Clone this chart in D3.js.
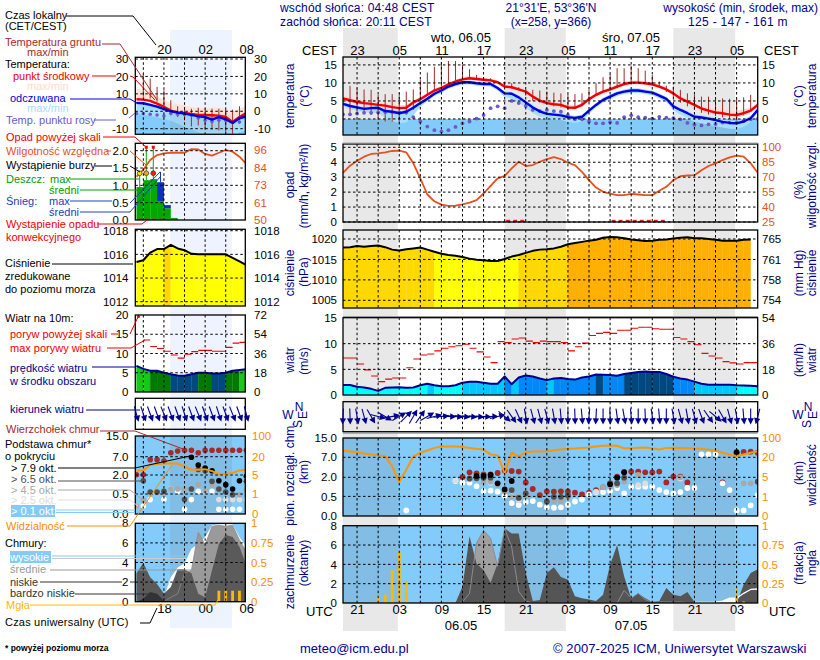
<!DOCTYPE html>
<html><head><meta charset="utf-8">
<script src="https://cdn.jsdelivr.net/npm/d3@7/dist/d3.min.js"></script>
<style>
html,body{margin:0;padding:0;background:#fff}
text{font-family:"Liberation Sans",Arial,sans-serif;font-size:11px}
</style></head><body><svg id="c" width="820" height="660"></svg>
<script>
// ---------- DATA : main panel (hourly, t = hours after 21:00 CEST 05.05) ----------
const tempMid=[5.7,5.2,4.7,4.4,4.2,3.9,3.7,3.3,3.0,3.1,4.6,5.5,6.7,7.9,8.6,9.6,10.4,11.0,11.3,11.1,10.9,10.7,10.2,9.0,8.8,8.2,7.6,6.2,5.1,4.4,4.1,3.9,3.2,3.1,3.9,5.5,6.7,7.6,8.2,9.0,9.7,10.1,10.1,9.9,9.6,9.0,8.2,7.1,5.7,4.8,3.9,2.9,2.3,1.8,1.6,1.2,1.1,1.6,2.3,3.9];
const tempHi=[6.5,6.0,5.5,5.1,5.0,4.7,4.5,4.2,3.9,3.9,5.2,6.1,7.2,8.4,9.1,10.1,10.9,11.6,11.9,11.7,11.4,11.2,10.7,9.6,9.4,8.8,8.1,6.8,5.7,5.0,4.8,4.5,3.9,3.8,4.5,6.1,7.2,8.1,8.8,9.6,10.3,10.7,10.7,10.5,10.2,9.6,8.8,7.7,6.4,5.5,4.6,3.7,3.2,2.8,2.6,2.3,2.3,2.7,3.2,4.6];
const tempLo=[5.0,4.5,4.1,3.9,3.7,3.4,3.1,2.7,2.5,2.6,4.0,5.0,6.2,7.4,8.1,9.1,9.9,10.5,10.8,10.6,10.4,10.2,9.7,8.5,8.3,7.7,7.1,5.7,4.6,3.9,3.6,3.4,2.7,2.6,3.4,5.0,6.2,7.1,7.7,8.5,9.2,9.6,9.6,9.4,9.1,8.5,7.7,6.6,5.2,4.3,3.4,2.4,1.8,1.3,1.0,0.6,0.4,0.9,1.7,3.4];
const appMid=[4.2,3.6,3.2,2.8,3.0,3.1,2.2,2.0,1.6,2.0,3.1,4.4,5.6,7.0,7.9,9.0,9.7,10.2,10.2,9.9,9.7,9.7,8.6,7.1,7.0,6.0,4.6,3.2,2.1,1.4,1.2,1.0,0.5,0.3,0.6,2.3,3.9,5.3,6.2,7.1,7.6,7.9,7.9,7.6,7.3,6.5,5.6,3.5,2.5,1.6,0.6,0.4,0.1,-0.3,-0.8,-1.1,-1.2,-0.7,0.2,2.5];
const appHi=[4.7,4.1,3.7,3.3,3.5,3.6,2.8,2.6,2.2,2.6,3.6,4.9,6.1,7.5,8.4,9.5,10.2,10.7,10.7,10.4,10.2,10.2,9.1,7.6,7.5,6.5,5.1,3.8,2.7,2.0,1.8,1.6,1.1,0.9,1.2,2.8,4.4,5.8,6.8,7.7,8.2,8.5,8.5,8.2,7.9,7.1,6.2,4.1,3.1,2.2,1.2,1.0,0.7,0.4,-0.1,-0.4,-0.5,0.0,0.8,3.1];
const appLo=[3.5,2.8,2.2,1.8,1.7,1.6,0.3,-0.5,-1.2,-1.0,1.0,3.4,4.9,6.4,7.3,8.4,9.1,9.6,9.6,9.3,9.1,9.0,7.9,6.1,5.6,4.6,3.1,1.6,0.6,0.1,-0.2,-0.3,-0.8,-1.1,-0.7,1.5,3.2,4.6,5.5,6.4,6.9,7.2,7.2,6.9,6.6,5.7,4.7,2.5,1.2,0.2,-0.8,-1.2,-1.6,-2.0,-2.4,-2.7,-2.8,-2.2,-0.9,1.8];
const groundMax=[null,9.2,8.5,8.2,8.1,6.7,6.9,6.9,7.3,7.6,8.2,10.8,12.9,14.5,15.8,16.1,16.1,15,13.8,12.2,11.6,11.3,10.4,10.4,9.9,8.8,8.2,8.1,7.9,7.6,7.3,7.1,6.9,6.9,7.1,8.1,9.9,11.6,12.5,14.1,14.1,14.8,14.1,13.4,12.2,10.4,9.2,9,8.1,7.1,6.7,6.2,6.2,5.7,5.7,5.6,5.6,6,6.7,null];
const groundMin=[null,1.5,1.5,1.7,1.1,0.5,-0.7,-0.7,-1.2,1.2,2.5,6,7,8,9,10,10.8,11.2,11.2,11,10.8,10.6,10,8.7,8.5,8,6.5,5,4.5,4,3.5,3.2,2.5,3,3.5,5,6.5,7.5,8,8.5,9.5,10,10,9.8,9.5,9,7.5,6,4.5,3.5,2.5,1.7,1.2,0.8,0.4,0,-0.4,1,2,null];
const dewPoint=[1.3,1.3,1.5,1.7,1.7,1.8,1.9,1.9,1.9,1.8,0.5,-0.7,-2.1,-3.1,-3.5,-3.1,-2.2,-1.2,-0.7,0.1,1.1,3,3.5,3,5,4.4,3.6,2.5,2.2,2.5,2.2,2,1.1,-0.1,-0.1,-0.7,-1.2,-1.2,-0.9,-1.1,0.5,1,0.5,0.4,0.1,0.6,0.4,0.2,-0.1,-1.1,-1.6,-1.8,-1.5,-1.4,-1,-1,-1,-0.6,-0.1,0];
const humidity=[74.4,81.5,86.5,90.6,93.3,93.9,95,96.3,96.6,95,83.9,68.7,52.6,45.8,42.5,41.1,41.5,42.8,44.5,46.9,53.6,61.3,68.7,71.4,78.8,85.5,81.2,82.2,85.5,88.2,90.2,88.2,84.5,82.2,75.4,67,59.6,55.3,53.6,51.9,51.9,53.2,52.6,51.9,51.9,56.3,60.3,67,71,71.7,72,77,81.2,83.9,87.2,89.9,91.6,90.6,83.9,74.4];
const convective=[23.5,24.5,25.5,38.5,39.5,40.5,41.5,42.5,43.5,44.5,45.5];
const pressure=[1017.9,1018,1018.3,1018.1,1018.3,1018.4,1018,1017.4,1017.2,1017.5,1017.7,1017.9,1017.4,1016.9,1016.4,1016.1,1015.9,1015.6,1015.2,1014.9,1014.8,1014.6,1014.6,1015.1,1015.7,1016.1,1016.6,1017.1,1017.4,1017.5,1017.7,1018.1,1018.7,1019,1019.3,1019.6,1019.8,1020.3,1020.5,1020.4,1020.2,1019.9,1019.7,1019.5,1019.6,1019.8,1019.9,1020.1,1020.3,1020.4,1020.2,1020.2,1020,1019.8,1019.6,1019.6,1019.6,1019.8,1019.9];
const pressureClass=[1,1,1,1,1,1,1,1,1,1,1,1,1,0,0,0,0,0,0,0,0,0,0,0,0,1,1,1,1,1,1,1,2,2,2,2,2,2,2,2,2,2,2,2,2,2,2,2,2,2,2,2,2,2,2,2,2,2,2];
const gust=[7.2,7.2,6.05,4.9,3.7,2.6,3.1,3.3,3.3,5.3,7,7.8,8,8.6,9.1,9.4,9.6,9.9,9.1,8.4,7.4,6.3,10.4,10.2,10.9,11.1,10.5,10.2,10.5,10.4,10.4,10.2,8.6,9.4,10.1,11.6,12,12.2,12,12.6,12.6,13,13.2,13.2,12.9,12.8,12.8,11.2,10.9,10.4,9.8,8.1,7.6,7.2,6.5,6.25,6.05,6.3,6.3];
const windSpeed=[1.95,1.95,1.6,1.45,1.2,0.8,1.4,1.45,1.5,1.4,1.45,1.9,2.2,1.9,1.7,1.7,1.9,2.4,2.6,2.6,2.4,2.2,2.2,3.6,2.1,3.4,3.8,3.6,3.2,2.9,3.2,3.3,3.1,3,3.4,3.6,4,3.95,3.9,3.75,4.1,4.3,4.5,4.6,4.5,4.5,4.1,3.55,3.2,3,2.6,2.2,2,2,2,2,1.9,1.85,1.8,1.7];
const windDir=[3,358,350,345,330,285,300,260,240,225,210,215,240,255,265,272,275,276,275,275,274,270,255,310,325,335,350,345,345,345,350,355,0,358,355,5,3,0,358,352,350,355,0,358,352,355,0,350,345,350,345,340,325,310,330,345,350,355,0,15];
const visibility=[49,44,41,36,32,28,25,13.3,4,10.7,22.7,39,48,59,65,65,65,63,59,55,52,32,28,8.1,39,22.7,41,44,44,45,49,52,55,56,59,61,65,68,69,68,57,57,60,61,57,52,59,60,59,59,57,55,51,47,39,32,25,32,39,45];
const topsMain=[[17,2.08],[18,3.25],[19,3],[20,2.75],[21,2.75],[22,3.08],[23,3.67],[24,3.58],[25,3.42],[26,1.6],[27,1.08],[28,0.6],[29,0.9],[30,0.87],[31,0.9],[32,0.9],[33,0.79],[34,0.66],[35,0.79],[36,1.0],[37,1.21],[38,1.53],[39,2.17],[40,3.33],[41,3.42],[42,3.42],[43,3.25],[44,3.25],[45,3.42],[46,1.6],[47,2.17],[48,2.17],[49,1.6],[54,1.6],[56,9.2],[57,9.2],[58,9.35],[59,8.9]];
const base01Main=[[9,0.14],[16,1.71],[17,1.58],[18,1.58],[19,1.29],[20,0.92],[21,0.95],[22,0.87],[23,0.55],[24,0.33],[25,0.28],[26,0.36],[27,0.38],[28,0.29],[29,0.22],[30,0.21],[31,0.22],[32,0.29],[33,0.37],[34,0.42],[35,0.66],[36,0.84],[37,0.84],[38,0.92],[39,1.16],[40,0.74],[41,1.26],[42,1.26],[43,1.26],[44,1.26],[45,1.0],[46,0.84],[47,0.74],[48,0.84],[49,1.16],[50,1.16],[51,8.24],[52,8.24],[53,8.24],[54,1.53],[55,1.0],[56,0.14],[57,0.14],[58,0.27],[59,0.6]];
const base25Main=[[16,1.75],[20,1.72],[21,1.58],[22,1.45],[24,0.5],[25,0.4],[36,0.86],[42,1.39],[43,1.53],[48,1.9]];
const base45Main=[[18,1.84],[20,1.66],[21,1.66],[22,1.39],[23,0.87],[24,0.49],[25,0.49],[26,0.6],[30,0.38],[31,0.38],[32,0.47],[37,1.21],[38,1.26],[39,1.39],[40,1.66],[42,2.58],[48,2.0],[57,1.53],[58,1.53]];
const base65Main=[[18,1.92],[19,1.92],[20,1.97],[21,1.97],[24,1.0],[25,0.46],[26,0.74],[29,0.37],[30,0.49],[31,0.49],[32,0.6],[38,1.53],[39,1.53],[40,1.97],[59,1.66]];
const base79Main=[[19,2.33],[20,2.33],[21,2.58],[22,1.53],[23,1.05],[24,1.71],[38,1.45],[39,1.97],[40,3.25],[56,8.93]];
const cloudLow=[0,0,0,0,0,0,0,0,0,0,0,0,0,0,0,0,0,1.7,6.9,4.1,3.4,2.1,4.1,7.7,7.2,7.2,3.1,0.2,0.3,3.1,3.7,2.7,2.4,0.7,0.5,0.35,0.2,0.85,3.95,6,2.75,0.5,1,0.5,0.1,0.2,1.55,0.85,0.7,1.15,0.1,0,0,0,0,0,0,1.9,3.1,3.5];
const cloudMid=[0,0,0,0,0,0,0,0,0,0,0,0,0,0,0,0,0,0.1,1,6.2,7.5,6.7,3.8,7.7,5.8,1.2,0.2,0,0,0,0,0,0,0,0,0,0,0,0,0,1.3,0.5,1,0.35,0.1,0.1,0.1,0.1,0.1,0,0,0,0,0,0,0,0,0,0,0];
const cloudHigh=[0,0,0,0,0,0,0,0,0,0,0,0,0,0,0,0,0,0,0,0,0,0,0,0,0,0,0,0,0,0,0,0,0,0,0,0,0,0,0,0,0,0,0,0,0,0,0,0,0,0,0.05,0.05,0.05,0.1,0.2,0.5,0.5,1,1.4,1.45];
const fogMain=[[5,0.094],[6,0.107],[7,0.43],[8,0.665],[9,0.28],[56,0.19],[57,0.02]];

// ---------- DATA : left panel (t = hours after 16:00 CEST) ----------
const lTempMid=[6.9,6.7,6,4.4,2.5,0.4,-0.6,-1,-1.5,-2.1,-2.1,-2.3,-2.5,-3.3,-6.2,-3.3,-1];
const lTempHi=[13,12.1,10.6,8.7,6.3,4.8,4,3.5,2.5,1.9,1.9,2.1,1.9,1.5,-0.4,1.5,2.9];
const lTempLo=[6.2,6,5.3,3.7,1.8,-0.3,-1.3,-1.7,-2.2,-2.8,-2.8,-3,-3.2,-4,-6.9,-4,-1.7];
const lAppMid=[4.8,4.6,3.7,2.7,1.3,0,-0.8,-1.3,-2.1,-2.9,-3.3,-4.8,-3.3,-4.6,-6.7,-4,-2.9];
const lAppHi=[5.4,5.2,4.3,3.3,1.9,0.6,-0.2,-0.7,-1.5,-2.3,-2.7,-4.2,-2.7,-4,-6.1,-3.4,-2.3];
const lAppLo=[-1.3,-2,-2.5,-3.5,-4.5,-5.5,-7,-9,-10.5,-12,-13,-13.5,-13,-13,-14,-12,-11];
const lGroundMax=[null,21.3,18.8,14,12.1,6.3,2.9,2.5,1.5,2.1,1.5,1.5,1.5,1,1,2.9,null];
const lGroundMin=[null,8.3,7.3,5.4,0.6,-2.3,-3.3,-5.2,-8.7,-8.1,-10,-10.6,-11,-12.5,-12.9,-5.2,null];
const lDew=[-1.3,-1.3,-1.7,-2.1,-2.7,-1.3,-1.7,-1.9,-2.3,-3.8,-5.2,-5.8,-5.2,-5.2,-6.2,-6.2,-2.3];
const lHumidity=[78.5,83,89.5,92.7,93.8,94.2,94.2,94.2,96.6,96.4,93.4,92.3,94.2,96,94.9,91.6,86.8];
const lRainMean=[0.95,1.15,1.18,0.53,0.34,0.06];
const lSnowMean=[0,0,0,0.56,0.09,0];
const lRainMax=[[0.47,1.35],[1.43,2.12],[2.45,2.12]];
const lSnowMax=[[3.5,1.39]];
const lStorm=[[0.47,"#FFE000"],[1.43,"#FFA500"],[2.45,"#F02000"]];
const lOverScale=[1.43,2.45];
const lConvective=[0.5,1.5,2.5,3.5];
const lPressure=[1015.35,1015.5,1016.15,1016.45,1016.45,1016.8,1016.5,1016.35,1016.05,1016,1016,1016,1016,1016,1015.7,1015.4,1015.1];
const lPressureClass=[0,0,0,0,1,0,0,0,0,0,0,0,0,0,0,0];
const lGust=[null,13.5,11.8,11.3,10.6,9.6,8.8,9.8,10.5,10.8,10.8,10.6,10.6,11.6,12.7,12.9];
const lWindSpeed=[6.8,6,5.5,5.5,5,4.6,4.3,4.2,4.6,5,5,4.8,4.8,5,5.5,5.7,5.9];
const lWindDir=[345,342,340,340,338,340,340,342,340,338,340,340,342,340,338,340,345];
const lVisibility=[8.75,8.75,13.3,14.1,14.4,14.4,14.4,12,9.3,9.3,9.8,8.2,5.8,5.8,6.6,8.75,9.3];
const lTops=[[0,2.08],[1,2.08],[2,6.2],[3,6.2],[4,5.83],[5,8.5],[6,9.2],[7,9.5],[8,9.5],[9,8.5],[10,9.5],[11,9.5],[12,9.5],[13,9.5],[14,9.5],[15,9.5],[16,9.5]];
const lBase01=[[1,0.2],[2,0.36],[4,0.37],[6,0.71],[7,0.12],[8,0.36],[9,0.71],[10,0.71],[11,0.71],[12,0.12],[13,0.12],[14,0.12],[15,0.12]];
const lBase25=[[0,0.2],[3,0.55],[5,0.92],[12,0.36],[13,0.36],[14,0.36],[15,0.36],[16,0.36]];
const lBase45=[[0,0.2],[1,0.34],[2,0.58],[3,0.58],[4,0.58],[5,0.9],[6,0.9],[7,0.9],[8,0.9],[9,1.24],[10,0.76],[11,1.24],[12,0.84],[13,0.66],[14,0.48],[15,0.48],[16,0.84]];
const lBase65=[[1,1.55],[2,0.66],[3,0.66],[4,0.71],[7,0.36],[8,0.9],[9,3.5],[10,3.17],[11,1.5],[12,0.9],[13,0.66],[14,0.48],[16,1.5]];
const lBase79=[[8,6.83],[9,4.75],[10,3.92],[11,3.17],[12,1.55],[13,1.24],[14,0.9],[15,1.55],[16,1.9]];
const lCloudVeryLow=[0,0.3,1,0.8,0.1,0,0,0,0,0,0,0,0,0,0,0,0];
const lCloudLow=[2.9,3.95,2.5,1.8,0.8,1.5,3.3,3.3,2.9,0.8,0.45,3.2,5.9,6.8,6.6,5.6,3.7];
const lCloudMid=[0,0,0,0,0,0.45,0.8,2.9,3.2,7.1,5.8,7.7,7.8,7.7,7.8,6.3,5.1];
const lCloudHigh=[0,0,0,0,0.45,2.5,3.5,3.9,5.4,5.9,6.6,7.8,7.9,7.9,7.9,6.6,5.6];
const lFog=[[12,0.14],[13,0.14],[14,0.14],[15,0.14]];

// ---------- tick labels ----------
const localTop=["23","05","11","17","23","05","11","17","23","05"];
const utcBottom=["21","03","09","15","21","03","09","15","21","03"];
const labelHours=[2,8,14,20,26,32,38,44,50,56];
const lLocalTop=[[4,"20"],[10,"02"],[16,"08"]];
const lUtcBottom=[[4,"18"],[10,"00"],[16,"06"]];
const baseTicks=[0,0.5,2,7,15];
const visTicks=[0,1,5,20,100];
const fogTicks=[0,0.25,0.5,0.75,1];
const mainNights=[[0,7.8],[23,31.7],[47,55.8]];
const leftNights=[[4.9,13.9]];

// ---------- helpers ----------
const svg=d3.select("#c");
const NAVY="#000090",ORG="#FF8C00",HUM="#E8501E",BLUEBG="#82CBFA",BROWN="#A52A2A",GRIDC="#000";
const X=d3.scaleLinear([0,59],[343,757.7]);
const XL=d3.scaleLinear([-0.17,15.85],[135.3,245.3]);
const defs=svg.append("defs");let clipN=0;
const bgLayer=svg.append("g");
mainNights.forEach(n=>bgLayer.append("rect").attr("x",X(n[0])).attr("width",X(n[1])-X(n[0])).attr("y",28).attr("height",603).attr("fill","#E8E8E8"));
leftNights.forEach(n=>bgLayer.append("rect").attr("x",XL(n[0])).attr("width",XL(n[1])-XL(n[0])).attr("y",30).attr("height",598).attr("fill","#EEF4FF"));

function panel(x,top,bot,bg,nights,nightCol){
  const x0=x.range()[0],x1=x.range()[1];
  const id="cp"+(clipN++);
  defs.append("clipPath").attr("id",id).append("rect").attr("x",x0).attr("y",top).attr("width",x1-x0).attr("height",bot-top);
  const g=svg.append("g").attr("clip-path",`url(#${id})`);
  g.append("rect").attr("x",x0).attr("y",top).attr("width",x1-x0).attr("height",bot-top).attr("fill",bg);
  return {g,x,x0,x1,top,bot,nights,nightCol};
}
function overlay(p){p.nights.forEach(n=>p.g.append("rect").attr("x",p.x(n[0])).attr("width",p.x(n[1])-p.x(n[0])).attr("y",p.top).attr("height",p.bot-p.top).attr("fill",p.nightCol));}
const GREYOV="rgba(128,128,128,0.18)",BLUEOV="rgba(100,150,255,0.11)";
function finish(p,y,yticks,vticks){
  const gr=svg.append("g").attr("stroke",GRIDC).attr("stroke-width",1).attr("stroke-dasharray","2.5,2.5").attr("fill","none");
  (yticks||[]).forEach(v=>gr.append("line").attr("x1",p.x0).attr("x2",p.x1).attr("y1",y(v)).attr("y2",y(v)));
  vticks.forEach(t=>gr.append("line").attr("x1",p.x(t)).attr("x2",p.x(t)).attr("y1",p.top).attr("y2",p.bot));
  svg.append("rect").attr("x",p.x0).attr("y",p.top).attr("width",p.x1-p.x0).attr("height",p.bot-p.top).attr("fill","none").attr("stroke","#000").attr("stroke-width",1.3);
}
const mainV=d3.range(2,59,3), leftV=d3.range(1,16,3);
function lineOf(x,y,data){return d3.line().defined(d=>d!=null).x((d,i)=>x(i)).y(d=>y(d))(data);}
function drawLine(g,x,y,data,col,w){g.append("path").attr("d",lineOf(x,y,data)).attr("fill","none").attr("stroke",col).attr("stroke-width",w).attr("stroke-linejoin","round");}
function band(g,x,y,hi,lo,col){g.append("path").attr("d",d3.area().x((d,i)=>x(i)).y0((d,i)=>y(lo[i])).y1(d=>y(d))(hi)).attr("fill",col);}
const FF='"Liberation Sans",Arial,sans-serif';
function axisLeft(scale,ticks,fmt,xpos,col){
  const a=svg.append("g").attr("transform",`translate(${xpos},0)`).call(d3.axisLeft(scale).tickValues(ticks).tickFormat(fmt).tickSize(0).tickPadding(0));
  a.select(".domain").remove();a.selectAll("text").attr("fill",col||"#000").style("font-size","11.5px").style("font-family",FF);
}
function axisRight(scale,ticks,fmt,xpos,col){
  const a=svg.append("g").attr("transform",`translate(${xpos},0)`).call(d3.axisRight(scale).tickValues(ticks).tickFormat(fmt).tickSize(0).tickPadding(0));
  a.select(".domain").remove();a.selectAll("text").attr("fill",col||"#000").style("font-size","11.5px").style("font-family",FF);
}
function dots(g,x,y,list,col,r){g.selectAll(null).data(list).enter().append("circle").attr("cx",d=>x(d[0])).attr("cy",d=>y(d[1])).attr("r",r).attr("fill",col);}
function columns(g,x,y,data,colorOf,y0val){
  d3.range(data.length-1).forEach(i=>{
    const seg=[[i,data[i]],[i+1,data[i+1]]];
    const c=colorOf(data[i],i);
    g.append("path").attr("d",d3.area().x(d=>x(d[0])).y0(y(y0val)).y1(d=>y(d[1]))(seg)).attr("fill",c).attr("stroke",c).attr("stroke-width",0.3);
  });
}
function arrows(g,x,yc,dirs){
  dirs.forEach((d,i)=>{
    const a=g.append("g").attr("transform",`translate(${x(i)},${yc}) rotate(${d+180})`);
    a.append("line").attr("x1",0).attr("y1",8).attr("x2",0).attr("y2",-5).attr("stroke",NAVY).attr("stroke-width",1.1);
    a.append("path").attr("d",d3.line()([[0,-8],[3.2,-1.8],[-3.2,-1.8]])+"Z").attr("fill",NAVY);
  });
}
const pressColors=["#FFFF00","#FFD800","#FFB000"];
const windColor=d3.scaleThreshold([2,3,4,4.9,5.6],["#00FFFF","#00C8FF","#0088F8","#004880","#007A00","#18C818"]);

// ---------- MAIN PANELS ----------
{ // temperature
  const y=d3.scaleLinear([-4.45,17.2],[135,57]);
  const p=panel(X,57,135,"#fff",mainNights,GREYOV);
  p.g.append("rect").attr("x",p.x0).attr("y",y(0)).attr("width",p.x1-p.x0).attr("height",p.bot-y(0)).attr("fill",BLUEBG);
  overlay(p);
  band(p.g,X,y,tempHi,tempLo,"#FFD9D6");
  band(p.g,X,y,appHi,appLo,"#A6DEFF");
  groundMax.forEach((v,i)=>{if(v!=null)p.g.append("line").attr("x1",X(i)).attr("x2",X(i)).attr("y1",y(v)).attr("y2",y(groundMin[i])).attr("stroke",BROWN).attr("stroke-width",1);});
  dots(p.g,X,y,dewPoint.map((v,i)=>[i,v]),"#6A5ACD",1.9);
  drawLine(p.g,X,y,tempMid,"#F00000",2.4);
  drawLine(p.g,X,y,appMid,"#0000E0",2.4);
  finish(p,y,[0,5,10,15],mainV);
  axisLeft(y,[0,5,10,15],String,337);axisRight(y,[0,5,10,15],String,762);
}
{ // precipitation / humidity
  const y=d3.scaleLinear([0,5],[222,147.3]);
  const yh=d3.scaleLinear([25,100],[222,147.3]);
  const p=panel(X,144,222,"#fff",mainNights,GREYOV);overlay(p);
  drawLine(p.g,X,yh,humidity,HUM,1.8);
  p.g.selectAll(null).data(convective).enter().append("rect").attr("x",d=>X(d)-2).attr("width",4).attr("y",y(0)-2.2).attr("height",2.6).attr("fill","#E02020");
  finish(p,y,[0,1,2,3,4,5],mainV);
  axisLeft(y,[0,1,2,3,4,5],String,337);axisRight(yh,[25,40,55,70,85,100],String,762,HUM);
  svg.append("rect").attr("x",343).attr("y",142.6).attr("width",414.7).attr("height",1).attr("fill","#999");
}
{ // pressure
  const y=d3.scaleLinear([1005,1020],[300.3,239]);
  const p=panel(X,230,308,"#fff",mainNights,GREYOV);overlay(p);
  columns(p.g,X,y,pressure,(v,i)=>pressColors[pressureClass[i]],1000);
  drawLine(p.g,X,y,pressure,"#000",2);
  finish(p,y,[1005,1010,1015,1020],mainV);
  axisLeft(y,[1005,1010,1015,1020],String,337);
  const mm=["754","758","761","765"];
  axisRight(y,[1005,1010,1015,1020],(d,i)=>mm[i],762);
}
{ // wind
  const y=d3.scaleLinear([0,15],[395,318]);
  const p=panel(X,317.7,395,"#fff",mainNights,GREYOV);overlay(p);
  columns(p.g,X,y,windSpeed,windColor,0);
  drawLine(p.g,X,y,windSpeed,NAVY,2);
  gust.forEach((v,i)=>p.g.append("line").attr("x1",X(i)).attr("x2",X(i+1)).attr("y1",y(v)).attr("y2",y(v)).attr("stroke","#F00000").attr("stroke-width",1.1));
  finish(p,y,[5,10],mainV);
  axisLeft(y,[0,5,10,15],String,337);
  axisRight(y,[0,5,10,15],d=>d*3.6,762);
  svg.append("rect").attr("x",343).attr("y",316).attr("width",414.7).attr("height",1).attr("fill","#999");
}
{ // wind direction
  const p=panel(X,401.7,431.7,"#fff",mainNights,GREYOV);overlay(p);
  finish(p,null,[],mainV);
  arrows(svg.append("g"),X,416.5,windDir);
  svg.append("rect").attr("x",343).attr("y",432).attr("width",414.7).attr("height",1.6).attr("fill","#888");
}
{ // cloud base / visibility
  const y=d3.scaleLinear(baseTicks,[516,496.4,477.3,457.3,438]);
  const yv=d3.scaleLinear(visTicks,[516,496.4,477.3,457.3,438]);
  const p=panel(X,438,516,BLUEBG,mainNights,GREYOV);overlay(p);
  dots(p.g,X,y,topsMain,BROWN,2.9);
  dots(p.g,X,y,base01Main,"#fff",2.9);
  dots(p.g,X,y,base25Main,"#DDDDDD",2.9);
  dots(p.g,X,y,base45Main,"#A8A8A8",2.9);
  dots(p.g,X,y,base65Main,"#505050",2.9);
  dots(p.g,X,y,base79Main,"#000",2.9);
  drawLine(p.g,X,yv,visibility,"#FF9500",2);
  finish(p,y,[0.5,2,7],mainV);
  axisLeft(y,baseTicks,d3.format(".1f"),337);axisRight(yv,visTicks,String,762,ORG);
}
{ // cloud cover / fog
  const y=d3.scaleLinear([0,8],[603,525.7]);
  const yf=d3.scaleLinear([0,1],[603,525.7]);
  const p=panel(X,525.7,603,BLUEBG,mainNights,GREYOV);overlay(p);
  const zeros=cloudHigh.map(()=>0);
  band(p.g,X,y,cloudHigh,zeros,"#fff");
  band(p.g,X,y,cloudMid,zeros,"#A0A0A0");
  band(p.g,X,y,cloudLow,zeros,"#555555");
  drawLine(p.g,X,y,cloudMid,"#8C8C8C",1);
  drawLine(p.g,X,y,cloudHigh.map((v,i)=>i<50?null:v),"#fff",1.3);
  fogMain.forEach(f=>p.g.append("rect").attr("x",X(f[0])-1.4).attr("width",2.8).attr("y",yf(f[1])).attr("height",yf(0)-yf(f[1])).attr("fill","#FFB800"));
  finish(p,y,[2,4,6],mainV);
  axisLeft(y,[0,2,4,6,8],String,337);axisRight(yf,fogTicks,d=>d,762,ORG);
}
{
  const top=svg.append("g").attr("transform","translate(0,55)").call(d3.axisTop(X).tickValues(labelHours).tickFormat((d,i)=>localTop[i]).tickSize(0).tickPadding(0));
  top.select(".domain").remove();top.selectAll("text").attr("fill","#000").style("font-size","13px").style("font-family",FF);
  const bot=svg.append("g").attr("transform","translate(0,605)").call(d3.axisBottom(X).tickValues(labelHours).tickFormat((d,i)=>utcBottom[i]).tickSize(0).tickPadding(0));
  bot.select(".domain").remove();bot.selectAll("text").attr("fill","#000").style("font-size","13px").style("font-family",FF);
}

// ---------- LEFT PANELS ----------
{ // temp
  const y=d3.scaleLinear([-10,30],[128.7,59]);
  const p=panel(XL,57.3,134.3,"#fff",leftNights,BLUEOV);
  p.g.append("rect").attr("x",p.x0).attr("y",y(0)).attr("width",p.x1-p.x0).attr("height",p.bot-y(0)).attr("fill",BLUEBG);
  p.nights.forEach(n=>{p.g.append("rect").attr("x",XL(n[0])).attr("width",XL(n[1])-XL(n[0])).attr("y",p.top).attr("height",y(0)-p.top).attr("fill","#EEF4FF");});
  band(p.g,XL,y,lTempHi,lTempLo,"#FFE2D6");
  band(p.g,XL,y,lAppHi,lAppLo,"#A6DEFF");
  p.nights.forEach(n=>{p.g.append("rect").attr("x",XL(n[0])).attr("width",XL(n[1])-XL(n[0])).attr("y",y(-2)).attr("height",p.bot-y(-2)).attr("fill","rgba(128,128,128,0.12)");});
  lGroundMax.forEach((v,i)=>{if(v!=null)p.g.append("line").attr("x1",XL(i)).attr("x2",XL(i)).attr("y1",y(v)).attr("y2",y(lGroundMin[i])).attr("stroke",BROWN).attr("stroke-width",1);});
  dots(p.g,XL,y,lDew.map((v,i)=>[i,v]),"#6A5ACD",1.8);
  drawLine(p.g,XL,y,lTempMid,"#F00000",2.4);
  drawLine(p.g,XL,y,lAppMid,"#0000E0",2.4);
  finish(p,y,[-10,0,10,20,30],leftV);
  axisLeft(y,[-10,0,10,20,30],String,128.5);axisRight(y,[-10,0,10,20,30],String,254);
}
{ // precip
  const y=d3.scaleLinear([0,2],[220,150.7]);
  const yh=d3.scaleLinear([50,96],[220,150]);
  const p=panel(XL,143.3,220,"#fff",leftNights,BLUEOV);overlay(p);
  const cx=i=>Math.max(XL(i),p.x0);
  lRainMean.forEach((v,i)=>{
    p.g.append("rect").attr("x",cx(i)).attr("width",XL(i+1)-cx(i)).attr("y",y(v)).attr("height",y(0)-y(v)).attr("fill","#00A800");
    if(lSnowMean[i]>0)p.g.append("rect").attr("x",cx(i)).attr("width",XL(i+1)-cx(i)).attr("y",y(v+lSnowMean[i])).attr("height",y(v)-y(v+lSnowMean[i])).attr("fill","#1030C0");
  });
  lRainMax.forEach(d=>p.g.append("line").attr("x1",XL(d[0])).attr("x2",XL(d[0])).attr("y1",y(d[1])).attr("y2",y(lRainMean[Math.floor(d[0])])).attr("stroke","#00A800").attr("stroke-width",1));
  lSnowMax.forEach(d=>p.g.append("line").attr("x1",XL(d[0])).attr("x2",XL(d[0])).attr("y1",y(d[1])).attr("y2",y(1.09)).attr("stroke","#1030C0").attr("stroke-width",1));
  drawLine(p.g,XL,yh,lHumidity,HUM,1.8);
  lStorm.forEach(d=>p.g.append("circle").attr("cx",XL(d[0])).attr("cy",y(1.35)).attr("r",2.4).attr("fill",d[1]).attr("stroke","#333").attr("stroke-width",0.7));
  lOverScale.forEach(t=>p.g.append("rect").attr("x",XL(t)-1.5).attr("y",y(2.1)-1.5).attr("width",3).attr("height",3).attr("fill","#F00000"));
  lConvective.forEach(t=>p.g.append("rect").attr("x",XL(t)-1.5).attr("y",y(0)-1.5).attr("width",3).attr("height",2).attr("fill","#E02020"));
  finish(p,y,[0.5,1,1.5,2],leftV);
  axisLeft(y,[0,0.5,1,1.5,2],d3.format(".1f"),128.5);axisRight(yh,[50,61,73,84,96],String,254,HUM);
}
{ // pressure
  const y=d3.scaleLinear([1012,1018],[301.7,230.7]);
  const p=panel(XL,229.3,306,"#fff",leftNights,BLUEOV);overlay(p);
  columns(p.g,XL,y,lPressure,(v,i)=>pressColors[lPressureClass[i]],1005);
  drawLine(p.g,XL,y,lPressure,"#000",2);
  finish(p,y,[1012,1014,1016,1018],leftV);
  axisLeft(y,[1012,1014,1016,1018],String,128.5);axisRight(y,[1012,1014,1016,1018],String,254);
}
{ // wind
  const y=d3.scaleLinear([0,20],[392,315]);
  const p=panel(XL,315,392,"#fff",leftNights,BLUEOV);overlay(p);
  columns(p.g,XL,y,lWindSpeed,windColor,0);
  drawLine(p.g,XL,y,lWindSpeed,NAVY,2);
  lGust.forEach((v,i)=>{if(v!=null)p.g.append("line").attr("x1",XL(i)).attr("x2",XL(i+1)).attr("y1",y(v)).attr("y2",y(v)).attr("stroke","#F00000").attr("stroke-width",1.1);});
  p.g.append("circle").attr("cx",XL(0.3)).attr("cy",y(19.6)).attr("r",1.5).attr("fill","#F00000");
  finish(p,y,[5,10,15],leftV);
  axisLeft(y,[0,5,10,15,20],String,128.5);axisRight(y,[0,5,10,15,20],d=>d*3.6,254);
}
{ // direction
  const p=panel(XL,398.3,429.3,"#fff",leftNights,BLUEOV);overlay(p);
  finish(p,null,[],leftV);
  arrows(svg.append("g"),XL,414,lWindDir);
}
{ // cloud base
  const y=d3.scaleLinear(baseTicks,[514,494,475,456.7,436]);
  const yv=d3.scaleLinear(visTicks,[514,494,475,456.7,436]);
  const p=panel(XL,436,514,BLUEBG,leftNights,GREYOV);overlay(p);
  dots(p.g,XL,y,lTops,BROWN,2.8);
  dots(p.g,XL,y,lBase01,"#fff",2.8);
  dots(p.g,XL,y,lBase25,"#DDDDDD",2.8);
  dots(p.g,XL,y,lBase45,"#A8A8A8",2.8);
  dots(p.g,XL,y,lBase65,"#505050",2.8);
  dots(p.g,XL,y,lBase79,"#000",2.8);
  drawLine(p.g,XL,yv,lVisibility,"#FF9500",2);
  finish(p,y,[0.5,2,7],leftV);
  axisLeft(y,baseTicks,d3.format(".1f"),128.5);axisRight(yv,visTicks,String,252,ORG);
}
{ // clouds
  const y=d3.scaleLinear([0,8],[601.7,523.3]);
  const yf=d3.scaleLinear([0,1],[601.7,523.3]);
  const p=panel(XL,523.3,601.7,BLUEBG,leftNights,GREYOV);overlay(p);
  const zeros=lCloudHigh.map(()=>0);
  band(p.g,XL,y,lCloudHigh,zeros,"#fff");
  band(p.g,XL,y,lCloudMid,zeros,"#9A9A9A");
  band(p.g,XL,y,lCloudLow,zeros,"#5A5A5A");
  band(p.g,XL,y,lCloudVeryLow,zeros,"#333");
  drawLine(p.g,XL,y,lCloudMid,"#8C8C8C",0.8);
  lFog.forEach(f=>p.g.append("rect").attr("x",XL(f[0])-1.4).attr("width",2.8).attr("y",yf(f[1])).attr("height",yf(0)-yf(f[1])).attr("fill","#FFB800"));
  finish(p,y,[2,4,6],leftV);
  axisLeft(y,[0,2,4,6,8],String,128.5);axisRight(yf,fogTicks,d=>d,251,ORG);
}
{
  const t=svg.append("g").attr("transform","translate(0,54)").call(d3.axisTop(XL).tickValues(lLocalTop.map(d=>d[0])).tickFormat((d,i)=>lLocalTop[i][1]).tickSize(0).tickPadding(0));
  t.select(".domain").remove();t.selectAll("text").attr("fill","#000").style("font-size","13px").style("font-family",FF);
  const b=svg.append("g").attr("transform","translate(0,603.5)").call(d3.axisBottom(XL).tickValues(lUtcBottom.map(d=>d[0])).tickFormat((d,i)=>lUtcBottom[i][1]).tickSize(0).tickPadding(0));
  b.select(".domain").remove();b.selectAll("text").attr("fill","#000").style("font-size","13px").style("font-family",FF);
}

// ---------- TEXT ----------
const txt=(s,x,y,col,opt={})=>{
  const t=svg.append("text").attr("x",x).attr("y",y).attr("dy",".35em").attr("fill",col||"#000").text(s);
  if(opt.anchor)t.attr("text-anchor",opt.anchor);
  if(opt.size)t.style("font-size",opt.size+"px");
  if(opt.bold)t.style("font-weight","bold");
  if(opt.ls)t.style("letter-spacing",opt.ls+"px");
  if(opt.rot)t.attr("transform",`rotate(-90 ${x} ${y})`);
  return t;
};
const legend=[
["Czas lokalny",5,15,"#000"],["(CET/CEST)",5,26,"#000"],
["Temperatura gruntu",5,42,BROWN],["max/min",27,52,BROWN],
["Temperatura:",5,64,"#000"],["punkt środkowy",13,76,"#F00000"],["max/min",27,86,"#FFDCC8"],
["odczuwana",10,98,"#0000E0"],["max/min",27,108,"#A8DCFF"],["Temp. punktu rosy",6,120,"#6A5ACD"],
["Opad powyżej skali",6,137,"#F00000"],["Wilgotność względna",6,151,HUM],["Wystąpienie burzy",6,165,"#000"],
["Deszcz:",6,179,"#00A000"],["max",50,179,"#00A000"],["średni",49,190,"#00A000"],
["Śnieg:",6,201,"#2040C0"],["max",49,201,"#2040C0"],["średni",49,212,"#2040C0"],
["Wystąpienie opadu",6,224,"#F00000"],["konwekcyjnego",6,237,"#F00000"],
["Ciśnienie",5,263,"#000"],["zredukowane",5,276,"#000"],["do poziomu morza",5,289,"#000"],
["Wiatr na 10m:",5,318,"#000"],["poryw powyżej skali",10,334,"#F00000"],["max porywy wiatru",10,348,"#F00000"],
["prędkość wiatru",10,368,NAVY],["w środku obszaru",10,381,NAVY],["kierunek wiatru",10,409,NAVY],
["Wierzchołek chmur",6,429,BROWN],["Podstawa chmur*",5,444,"#000"],["o pokryciu",5,456,"#000"],
["> 7.9 okt.",11,468,"#000"],["> 6.5 okt.",11,479,"#505050"],["> 4.5 okt.",11,490,"#A8A8A8"],["> 2.5 okt.",11,500,"#DDDDDD"]];
svg.append("rect").attr("x",11).attr("y",505).attr("width",44).attr("height",12).attr("fill",BLUEBG);
svg.append("rect").attr("x",10).attr("y",551).attr("width",41).attr("height",12).attr("fill",BLUEBG);
legend.forEach(d=>txt(d[0],d[1],d[2],d[3]));
txt("> 0.1 okt.",11,511,"#fff");
txt("Widzialność",6,526,ORG);
txt("Chmury:",5,543,"#000");txt("wysokie",10,557,"#fff");txt("średnie",10,569,"#999");
txt("niskie",10,582,"#333");txt("bardzo niskie",10,593,"#333");txt("Mgła",6,605,"#FFB800");
txt("Czas uniwersalny (UTC)",5,622,"#000",{ls:0.2});
txt("* powyżej poziomu morza",5,648,"#000",{size:8.5,bold:true});

// leader lines
const leaders=[
[[[66,16],[133,16],[156,45]],"#000"],
[[[102,44],[120,44],[157,100]],BROWN],
[[[92,76],[116,76]],"#F00000"],[[[130,76],[133,77],[155,100]],"#F00000"],
[[[70,99],[130,99],[137,103]],"#0000E0"],
[[[94,120],[116,120]],"#6A5ACD"],[[[129,118],[135,113]],"#6A5ACD"],
[[[103,137],[135,137],[146,147]],"#F00000"],
[[[106,151],[111,151]],HUM],[[[130,151],[146,165]],HUM],
[[[95,166],[112,166]],"#000"],[[[130,166],[140,172]],"#000"],
[[[70,179],[139,179]],"#00A000"],[[[80,190],[137,190]],"#00A000"],
[[[70,201],[112,201]],"#2040C0"],[[[130,203],[160,172]],"#2040C0"],
[[[80,212],[130,212],[160,177]],"#2040C0"],
[[[97,224],[142,224],[147,220]],"#F00000"],
[[[52,264],[133,264]],"#000"],
[[[111,334],[118,334]],"#F00000"],[[[130,334],[138,317]],"#F00000"],
[[[107,348],[131,348],[145,340]],"#F00000"],
[[[92,367],[135,367]],NAVY],[[[86,410],[140,410]],NAVY],
[[[100,431],[135,431],[183,449]],BROWN],
[[[58,468],[135,468],[190,456]],"#000"],
[[[58,481],[143,481]],"#505050"],
[[[58,490],[130,490],[143,500]],"#A8A8A8"],
[[[58,500],[130,500],[138,506]],"#DDDDDD"],
[[[56,510],[135,510]],BLUEBG],[[[56,512.5],[135,512.5]],BLUEBG],
[[[67,526],[130,526],[172,465]],ORG],
[[[52,556],[186,556]],BLUEBG],[[[52,558.5],[186,558.5]],"#ccc"],
[[[50,570],[193,570]],"#999"],
[[[40,582],[122,582]],"#333"],[[[130,582],[135,582]],"#333"],
[[[75,594],[150,594]],"#333"],
[[[30,605],[215,605],[218,600]],"#FFB800"],
[[[140,623],[150,623],[157,608]],"#000"]];
const lg=svg.append("g").attr("fill","none").attr("stroke-width",1);
leaders.forEach(l=>lg.append("path").attr("d",d3.line()(l[0])).attr("stroke",l[1]));

// header
txt("wschód słońca: 04:48 CEST",280,8,NAVY,{size:12,ls:0.15});
txt("zachód słońca: 20:11 CEST",280,22,NAVY,{size:12,ls:0.15});
txt("21°31'E, 53°36'N",551,8,NAVY,{anchor:"middle",size:12});
txt("(x=258,  y=366)",551,22,NAVY,{anchor:"middle",size:12});
txt("wysokość (min, środek, max)",818,8,NAVY,{anchor:"end",size:12});
txt("125 - 147 - 161 m",738,22,NAVY,{anchor:"middle",size:12,ls:0.3});
txt("wto, 06.05",461,37,"#000",{anchor:"middle",size:13});
txt("śro, 07.05",631,37,"#000",{anchor:"middle",size:13});
txt("CEST",302,50,"#000",{size:13});txt("CEST",764,50,"#000",{size:13});
txt("UTC",306,611,"#000",{size:13});txt("UTC",769,611,"#000",{size:13});
txt("06.05",461,625,"#000",{anchor:"middle",size:13});
txt("07.05",631,625,"#000",{anchor:"middle",size:13});
txt("meteo@icm.edu.pl",300,648,NAVY,{size:13});
txt("© 2007-2025 ICM, Uniwersytet Warszawski",553,648,NAVY,{size:13,ls:0.08});

// rotated axis titles
const titles=[
["temperatura",290,96],["(°C)",305,96],["opad",290,185],["(mm/h, kg/m²/h)",304,186],
["ciśnienie",290,273],["(hPa)",304,272],["wiatr",290,360],["(m/s)",304,361],
["pion. rozciągł. chm.",290,474],["(km)",304,472],["zachmurzenie",290,572],["(oktanty)",304,563],
["temperatura",812,96],["(°C)",799,96],["wilgotność wzgl.",812,185],["(%)",799,190],
["ciśnienie",812,273],["(mm Hg)",799,273],["wiatr",812,360],["(km/h)",799,360],
["widzialność",812,475],["(km)",799,473],["mgła",812,563],["(frakcja)",799,563]];
titles.forEach(d=>txt(d[0],d[1],d[2],NAVY,{anchor:"middle",rot:true,size:12}));
// compass
[[288,415,"W",0],[299,407,"N",0],[303,415,"E",1],[298,424,"S",1],
 [798,415,"W",0],[808,407,"N",0],[813,415,"E",1],[807,424,"S",1]].forEach(d=>{
  txt(d[2],d[0],d[1],NAVY,{anchor:"middle",size:12,rot:!!d[3]});
});
</script></body></html>
